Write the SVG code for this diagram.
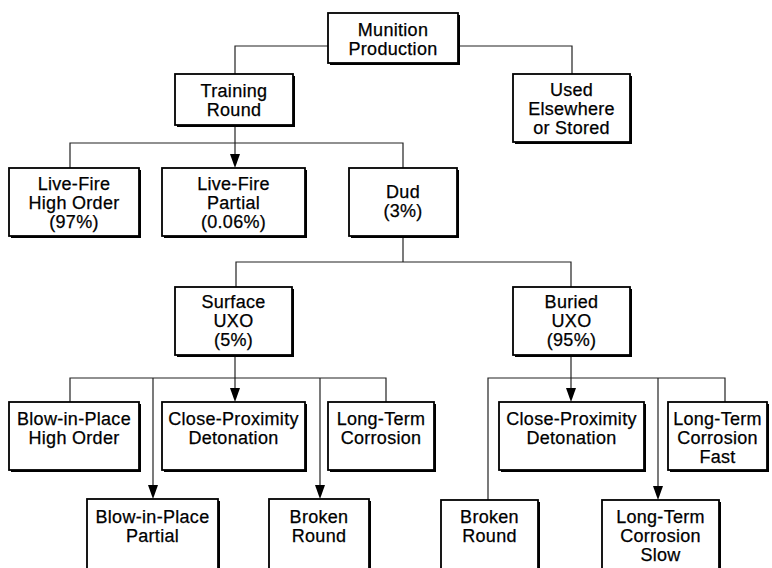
<svg xmlns="http://www.w3.org/2000/svg" width="772" height="568" viewBox="0 0 772 568">
<defs>
<style>
.sh{fill:#000}
.bx{fill:#fff;stroke:#000;stroke-width:1.8}
.t{font-family:"Liberation Sans",Arial,Helvetica,sans-serif;font-size:18px;letter-spacing:0.3px;fill:#000;stroke:#000;stroke-width:0.25;text-anchor:middle}
.c{fill:none;stroke:#222;stroke-width:1.2}
.ah{fill:#000}
</style>
</defs>
<rect width="772" height="568" fill="#fff"/>
<g id="connectors">
<path class="c" d="M328,46 H235 V74"/>
<path class="c" d="M458,46 H572 V74"/>
<path class="c" d="M70,168 V143 H403 V168"/>
<path class="c" d="M235,125 V160"/>
<path class="c" d="M403,236 V262"/>
<path class="c" d="M236,287 V262 H571 V287"/>
<path class="c" d="M70,402 V378 H386 V402"/>
<path class="c" d="M235,355 V394"/>
<path class="c" d="M153,378 V491"/>
<path class="c" d="M320,378 V491"/>
<path class="c" d="M571,355 V394"/>
<path class="c" d="M488,500 V378 H725 V402"/>
<path class="c" d="M658,378 V492"/>
<path class="ah" d="M230,154 H240 L235,168 Z"/>
<path class="ah" d="M230,388 H240 L235,402 Z"/>
<path class="ah" d="M148,485 H158 L153,499 Z"/>
<path class="ah" d="M315,485 H325 L320,499 Z"/>
<path class="ah" d="M566,388 H576 L571,402 Z"/>
<path class="ah" d="M653,486 H663 L658,500 Z"/>
</g>
<g id="munition"><rect class="sh" x="330" y="15" width="130" height="50"/><rect class="bx" x="328" y="13" width="130" height="50"/><text class="t" x="393" y="36">Munition</text><text class="t" x="393" y="54.5">Production</text></g>
<g id="training"><rect class="sh" x="177" y="76" width="118" height="51"/><rect class="bx" x="175" y="74" width="118" height="51"/><text class="t" x="234" y="97">Training</text><text class="t" x="234" y="116">Round</text></g>
<g id="used"><rect class="sh" x="515" y="76" width="117" height="68"/><rect class="bx" x="513" y="74" width="117" height="68"/><text class="t" x="571.5" y="96">Used</text><text class="t" x="571.5" y="115">Elsewhere</text><text class="t" x="571.5" y="134">or Stored</text></g>
<g id="livefire-high"><rect class="sh" x="11" y="170" width="130" height="68"/><rect class="bx" x="9" y="168" width="130" height="68"/><text class="t" x="74" y="190">Live-Fire</text><text class="t" x="74" y="209">High Order</text><text class="t" x="74" y="228">(97%)</text></g>
<g id="livefire-partial"><rect class="sh" x="164" y="170" width="143" height="68"/><rect class="bx" x="162" y="168" width="143" height="68"/><text class="t" x="233.5" y="190">Live-Fire</text><text class="t" x="233.5" y="209">Partial</text><text class="t" x="233.5" y="228">(0.06%)</text></g>
<g id="dud"><rect class="sh" x="351" y="170" width="108" height="68"/><rect class="bx" x="349" y="168" width="108" height="68"/><text class="t" x="403" y="198">Dud</text><text class="t" x="403" y="217">(3%)</text></g>
<g id="surface"><rect class="sh" x="177" y="289" width="117" height="68"/><rect class="bx" x="175" y="287" width="117" height="68"/><text class="t" x="233.5" y="308">Surface</text><text class="t" x="233.5" y="327">UXO</text><text class="t" x="233.5" y="346">(5%)</text></g>
<g id="buried"><rect class="sh" x="515" y="289" width="117" height="68"/><rect class="bx" x="513" y="287" width="117" height="68"/><text class="t" x="571.5" y="308">Buried</text><text class="t" x="571.5" y="327">UXO</text><text class="t" x="571.5" y="346">(95%)</text></g>
<g id="bip-high"><rect class="sh" x="11" y="404" width="130" height="68"/><rect class="bx" x="9" y="402" width="130" height="68"/><text class="t" x="74" y="425">Blow-in-Place</text><text class="t" x="74" y="444">High Order</text></g>
<g id="cpd-surface"><rect class="sh" x="164" y="404" width="143" height="68"/><rect class="bx" x="162" y="402" width="143" height="68"/><text class="t" x="233.5" y="425">Close-Proximity</text><text class="t" x="233.5" y="444">Detonation</text></g>
<g id="ltc-surface"><rect class="sh" x="330" y="404" width="106" height="68"/><rect class="bx" x="328" y="402" width="106" height="68"/><text class="t" x="381" y="425">Long-Term</text><text class="t" x="381" y="444">Corrosion</text></g>
<g id="bip-partial"><rect class="sh" x="89" y="501" width="131" height="80"/><rect class="bx" x="87" y="499" width="131" height="80"/><text class="t" x="152.5" y="523">Blow-in-Place</text><text class="t" x="152.5" y="542">Partial</text></g>
<g id="broken-surface"><rect class="sh" x="271" y="501" width="100" height="80"/><rect class="bx" x="269" y="499" width="100" height="80"/><text class="t" x="319" y="523">Broken</text><text class="t" x="319" y="542">Round</text></g>
<g id="cpd-buried"><rect class="sh" x="501" y="404" width="145" height="68"/><rect class="bx" x="499" y="402" width="145" height="68"/><text class="t" x="571.5" y="425">Close-Proximity</text><text class="t" x="571.5" y="444">Detonation</text></g>
<g id="ltc-fast"><rect class="sh" x="670" y="404" width="99" height="68"/><rect class="bx" x="668" y="402" width="99" height="68"/><text class="t" x="717.5" y="425">Long-Term</text><text class="t" x="717.5" y="444">Corrosion</text><text class="t" x="717.5" y="463">Fast</text></g>
<g id="broken-buried"><rect class="sh" x="443" y="502" width="97" height="80"/><rect class="bx" x="441" y="500" width="97" height="80"/><text class="t" x="489.5" y="523">Broken</text><text class="t" x="489.5" y="542">Round</text></g>
<g id="ltc-slow"><rect class="sh" x="604" y="502" width="117" height="80"/><rect class="bx" x="602" y="500" width="117" height="80"/><text class="t" x="660.5" y="523">Long-Term</text><text class="t" x="660.5" y="542">Corrosion</text><text class="t" x="660.5" y="561">Slow</text></g>
</svg>
